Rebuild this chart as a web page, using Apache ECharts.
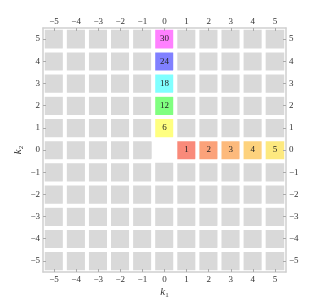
<!DOCTYPE html>
<html><head><meta charset="utf-8">
<script src="https://cdn.jsdelivr.net/npm/echarts@6/dist/echarts.min.js"></script>
<style>html,body{margin:0;padding:0;background:#fff}#c{width:311px;height:305px}</style>
</head><body><div id="c"></div>
<script>
const k1Values = [-5,-4,-3,-2,-1,0,1,2,3,4,5];
const k2Values = [-5,-4,-3,-2,-1,0,1,2,3,4,5];
const tickLabels = ['\u22125','\u22124','\u22123','\u22122','\u22121','0','1','2','3','4','5'];
// highlighted cells: [k1, k2, value]
const columnCells = [[0,1,6],[0,2,12],[0,3,18],[0,4,24],[0,5,30]];
const rowCells = [[1,0,1],[2,0,2],[3,0,3],[4,0,4],[5,0,5]];
const columnColors = ['#ffff80','#80ff80','#80ffff','#8080ff','#ff80ff'];
const rowColors = ['#f98a7a','#fba27a','#fdba7c','#fdd27d','#fde97f'];
const emptyCell = [0,0];

const font = 'Liberation Serif, DejaVu Serif, serif';
const data = [];
const key = (a,b)=>a+','+b;
const special = {};
columnCells.forEach((c,i)=>special[key(c[0],c[1])] = {v:c[2], color:columnColors[i]});
rowCells.forEach((c,i)=>special[key(c[0],c[1])] = {v:c[2], color:rowColors[i]});
k1Values.forEach((a,xi)=>{
  k2Values.forEach((b,yi)=>{
    if (a===emptyCell[0] && b===emptyCell[1]) return;
    const s = special[key(a,b)];
    if (s) {
      data.push({value:[xi,yi,s.v], itemStyle:{color:s.color}, label:{show:true}});
    } else {
      data.push({value:[xi,yi,0], itemStyle:{color:'#d9d9d9'}, label:{show:false}});
    }
  });
});

const axisCommon = {
  type:'category',
  z:10,
  axisLine:{show:true, lineStyle:{color:'#cfcfcf', width:1.5}},
  axisTick:{show:true, inside:true, alignWithLabel:true, length:3, lineStyle:{color:'#aaa'}},
  axisLabel:{fontFamily:font, fontSize:9, color:'#333', formatter:(v,i)=>tickLabels[i]},
  splitLine:{show:false}
};
const chart = echarts.init(document.getElementById('c'));
chart.setOption({
  animation:false,
  grid:{left:43, right:25, top:28, bottom:33, containLabel:false, outerBoundsMode:'none'},
  xAxis:[
    Object.assign({}, axisCommon, {data:k1Values, position:'bottom', axisLabel:Object.assign({}, axisCommon.axisLabel, {margin:3}),
      name:'{i|k}{s|1}', nameLocation:'middle', nameGap:14, nameMoveOverlap:false,
      nameTextStyle:{rich:{i:{fontFamily:font, fontStyle:'italic', fontSize:11, color:'#333'}, s:{fontFamily:font, fontSize:7, color:'#333', verticalAlign:'bottom', padding:[6,0,0,0]}}}}),
    Object.assign({}, axisCommon, {data:k1Values, position:'top', axisLabel:Object.assign({}, axisCommon.axisLabel, {margin:2})})
  ],
  yAxis:[
    Object.assign({}, axisCommon, {data:k2Values, position:'left', axisLabel:Object.assign({}, axisCommon.axisLabel, {margin:3}),
      name:'{i|k}{s|2}', nameLocation:'middle', nameGap:18, nameRotate:90, nameMoveOverlap:false,
      nameTextStyle:{rich:{i:{fontFamily:font, fontStyle:'italic', fontSize:11, color:'#333'}, s:{fontFamily:font, fontSize:7, color:'#333', verticalAlign:'bottom', padding:[6,0,0,0]}}}}),
    Object.assign({}, axisCommon, {data:k2Values, position:'right', axisLabel:Object.assign({}, axisCommon.axisLabel, {margin:3})})
  ],
  series:[{
    type:'heatmap',
    data:data,
    itemStyle:{borderColor:'#ffffff', borderWidth:4},
    label:{show:false, fontFamily:font, fontSize:9, color:'#222', formatter:p=>p.value[2]},
    emphasis:{disabled:true}
  }]
});
</script></body></html>
